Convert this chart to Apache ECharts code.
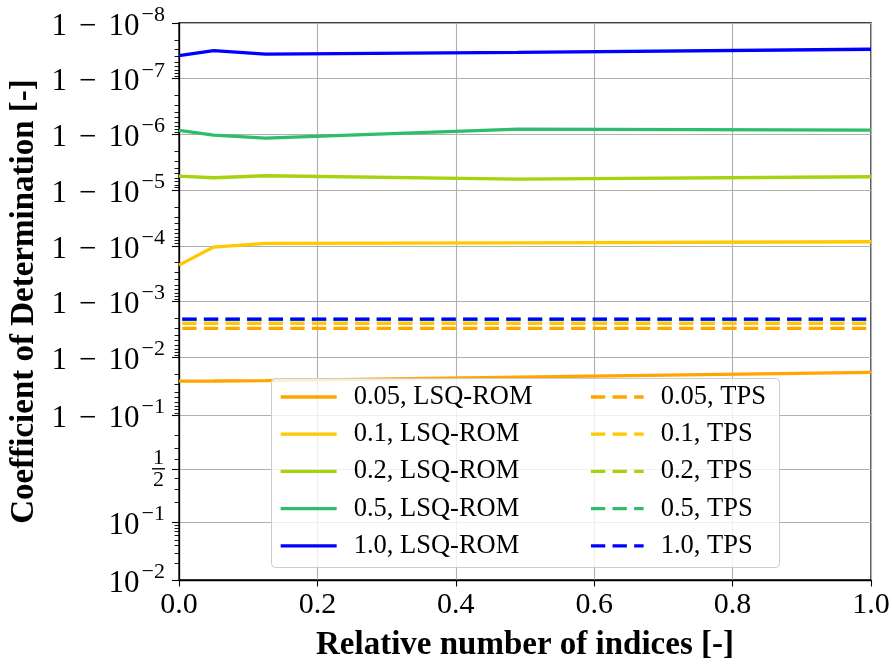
<!DOCTYPE html>
<html>
<head>
<meta charset="utf-8">
<script src="https://cdn.jsdelivr.net/npm/echarts@6/dist/echarts.min.js"></script>
<style>
  html, body { margin: 0; padding: 0; background: #fff; }
  #chart { width: 892px; height: 664px; }
</style>
</head>
<body>
<div id="chart"></div>
<script>
// Relative number of indices at which the models were evaluated
const relIndices = [0, 0.05, 0.125, 0.49, 1.0];

// Unexplained fraction (1 - R²) of the LSQ-ROM fits, per sampling ratio
const lsq005 = [0.0260, 0.0259, 0.0255, 0.0221, 0.0183];
const lsq01  = [2.21e-4, 1.05e-4, 9.0e-5, 8.83e-5, 8.43e-5];
const lsq02  = [5.58e-6, 5.98e-6, 5.51e-6, 6.32e-6, 5.74e-6];
const lsq05  = [8.43e-7, 1.03e-6, 1.16e-6, 8.0e-7, 8.34e-7];
const lsq10  = [3.86e-8, 3.14e-8, 3.61e-8, 3.36e-8, 2.96e-8];

// Unexplained fraction (1 - R²) of the TPS reference, per sampling ratio
const tps005 = [3.02e-3, 3.02e-3, 3.02e-3, 3.02e-3, 3.02e-3];
const tps01  = [2.46e-3, 2.46e-3, 2.46e-3, 2.46e-3, 2.46e-3];
const tps02  = [2.10e-3, 2.10e-3, 2.10e-3, 2.10e-3, 2.10e-3];
const tps05  = [2.08e-3, 2.08e-3, 2.08e-3, 2.08e-3, 2.08e-3];
const tps10  = [2.06e-3, 2.06e-3, 2.06e-3, 2.06e-3, 2.06e-3];

const ratios = ['0.05', '0.1', '0.2', '0.5', '1.0'];
const colors = ['#ffa500', '#ffc800', '#a6d20f', '#2ebd6a', '#0000ff'];
const lsqSets = [lsq005, lsq01, lsq02, lsq05, lsq10];
const tpsSets = [tps005, tps01, tps02, tps05, tps10];

// Major ticks of the logit-scaled R² axis and their labels
const yTicks = [0.01, 0.1, 0.5, 0.9, 0.99, 0.999, 0.9999, 0.99999, 0.999999, 0.9999999, 0.99999999];
const yTickLabels = [
  '{n|10}{sup|−2}',
  '{n|10}{sup|−1}',
  '{fr|1}\n{bar|}\n{fr|2}',
  '{n|1}{op|−}{n|10}{sup|−1}',
  '{n|1}{op|−}{n|10}{sup|−2}',
  '{n|1}{op|−}{n|10}{sup|−3}',
  '{n|1}{op|−}{n|10}{sup|−4}',
  '{n|1}{op|−}{n|10}{sup|−5}',
  '{n|1}{op|−}{n|10}{sup|−6}',
  '{n|1}{op|−}{n|10}{sup|−7}',
  '{n|1}{op|−}{n|10}{sup|−8}'
];

// logit transform used for the vertical axis
const logit = p => Math.log10(p / (1 - p));

const yMajor = yTicks.map(logit);
const yMin = yMajor[0];
const yMax = yMajor[yMajor.length - 1];

// minor ticks: k*10^-n near 0, 0.2..0.8 in the middle, 1 - k*10^-n near 1
const yMinorR2 = [];
for (let k = 2; k <= 9; k++) yMinorR2.push(k / 100);
[0.2, 0.3, 0.4, 0.6, 0.7, 0.8].forEach(v => yMinorR2.push(v));
for (let n = 2; n <= 8; n++) {
  for (let k = 2; k <= 9; k++) yMinorR2.push(1 - k * Math.pow(10, -n));
}
const yMinor = yMinorR2.map(logit).filter(v => v > yMin && v < yMax);

const FONT = "'Liberation Serif', 'Times New Roman', serif";

function pairs(residuals) {
  return relIndices.map((x, i) => [x, logit(1 - residuals[i])]);
}

const lsqNames = ratios.map(r => r + ', LSQ-ROM');
const tpsNames = ratios.map(r => r + ', TPS');

const series = [];
lsqSets.forEach((set, i) => {
  series.push({
    name: lsqNames[i], type: 'line', data: pairs(set),
    symbol: 'none', lineStyle: { color: colors[i], width: 3.3 },
    itemStyle: { color: colors[i] }, z: 2
  });
});
tpsSets.forEach((set, i) => {
  series.push({
    name: tpsNames[i], type: 'line', data: pairs(set),
    symbol: 'none',
    lineStyle: { color: colors[i], width: 3.3, type: [14.3, 7.3], dashOffset: -3.3 },
    itemStyle: { color: colors[i] }, z: 2
  });
});

const gridBox = { left: 179, right: 21, top: 23, bottom: 84, outerBoundsMode: 'none' };

const legendCommon = {
  orient: 'vertical', top: 383.5, padding: 0,
  itemWidth: 56, itemHeight: 14, itemGap: 10.2,
  selectedMode: false,
  itemStyle: { opacity: 0, borderWidth: 0 },
  lineStyle: { width: 3.3 },
  textStyle: { fontFamily: FONT, fontSize: 26.5, lineHeight: 26, color: '#000', padding: [0, 0, 0, 12] }
};

const option = {
  animation: false,
  backgroundColor: '#fff',
  grid: [
    Object.assign({ show: true, borderColor: '#000', borderWidth: 1.3, backgroundColor: 'transparent' }, gridBox),
    Object.assign({ show: false }, gridBox)
  ],
  xAxis: [{
    type: 'value', gridIndex: 0, min: 0, max: 1, interval: 0.2,
    name: 'Relative number of indices [-]',
    nameLocation: 'middle', nameGap: 49, nameMoveOverlap: false,
    nameTextStyle: { fontFamily: FONT, fontSize: 33, fontWeight: 'bold', color: '#000' },
    axisLine: { show: true, onZero: false, lineStyle: { color: '#000', width: 1.3 } },
    axisTick: { show: true, length: 6.5, lineStyle: { color: '#000', width: 1.1 } },
    axisLabel: {
      fontFamily: FONT, fontSize: 30, color: '#000', margin: 10,
      formatter: v => v.toFixed(1)
    },
    splitLine: { show: true, lineStyle: { color: '#b0b0b0', width: 1.1 } }
  }, {
    type: 'value', gridIndex: 1, min: 0, max: 1, show: false
  }],
  yAxis: [{
    type: 'value', gridIndex: 0, min: yMin, max: yMax,
    name: 'Coefficient of Determination [-]',
    nameLocation: 'middle', nameGap: 138, nameMoveOverlap: false,
    nameTextStyle: { fontFamily: FONT, fontSize: 33, fontWeight: 'bold', color: '#000' },
    axisLine: { show: true, onZero: false, lineStyle: { color: '#000', width: 1.3 } },
    axisTick: { show: true, length: 7, customValues: yMajor, lineStyle: { color: '#000', width: 1.1 } },
    axisLabel: {
      customValues: yMajor, margin: 14, color: '#000', fontFamily: FONT,
      formatter: v => {
        let best = 0;
        yMajor.forEach((t, i) => { if (Math.abs(t - v) < Math.abs(yMajor[best] - v)) best = i; });
        return yTickLabels[best];
      },
      rich: {
        n:   { fontFamily: FONT, fontSize: 31, color: '#000', lineHeight: 38, verticalAlign: 'bottom' },
        op:  { fontFamily: FONT, fontSize: 31, color: '#000', lineHeight: 38, verticalAlign: 'bottom', padding: [0, 12, 0, 12] },
        sup: { fontFamily: FONT, fontSize: 22, color: '#000', lineHeight: 22, verticalAlign: 'top', padding: [0, 0, 0, 2] },
        fr:  { fontFamily: FONT, fontSize: 22, color: '#000', lineHeight: 19, width: 13, align: 'center' },
        bar: { width: 13, height: 1.4, lineHeight: 3, backgroundColor: '#000' }
      }
    },
    splitLine: { show: true, lineStyle: { color: '#b0b0b0', width: 1.1 } }
  }, {
    type: 'value', gridIndex: 1, min: yMin, max: yMax, position: 'left',
    axisLine: { show: false, onZero: false },
    axisTick: { show: true, length: 4.5, customValues: yMinor, lineStyle: { color: '#000', width: 0.9 } },
    axisLabel: { show: false },
    splitLine: { show: false }
  }],
  legend: [
    Object.assign({ left: 279, data: lsqNames }, legendCommon),
    Object.assign({ left: 586, data: tpsNames }, legendCommon)
  ],
  graphic: [{
    type: 'rect', z: 3,
    shape: { x: 271.5, y: 378.5, width: 508, height: 189, r: 4 },
    style: { fill: 'rgba(255,255,255,0.8)', stroke: '#cccccc', lineWidth: 1 }
  }],
  series: series
};

const chart = echarts.init(document.getElementById('chart'), null, { renderer: 'canvas' });
chart.setOption(option);
</script>
</body>
</html>
